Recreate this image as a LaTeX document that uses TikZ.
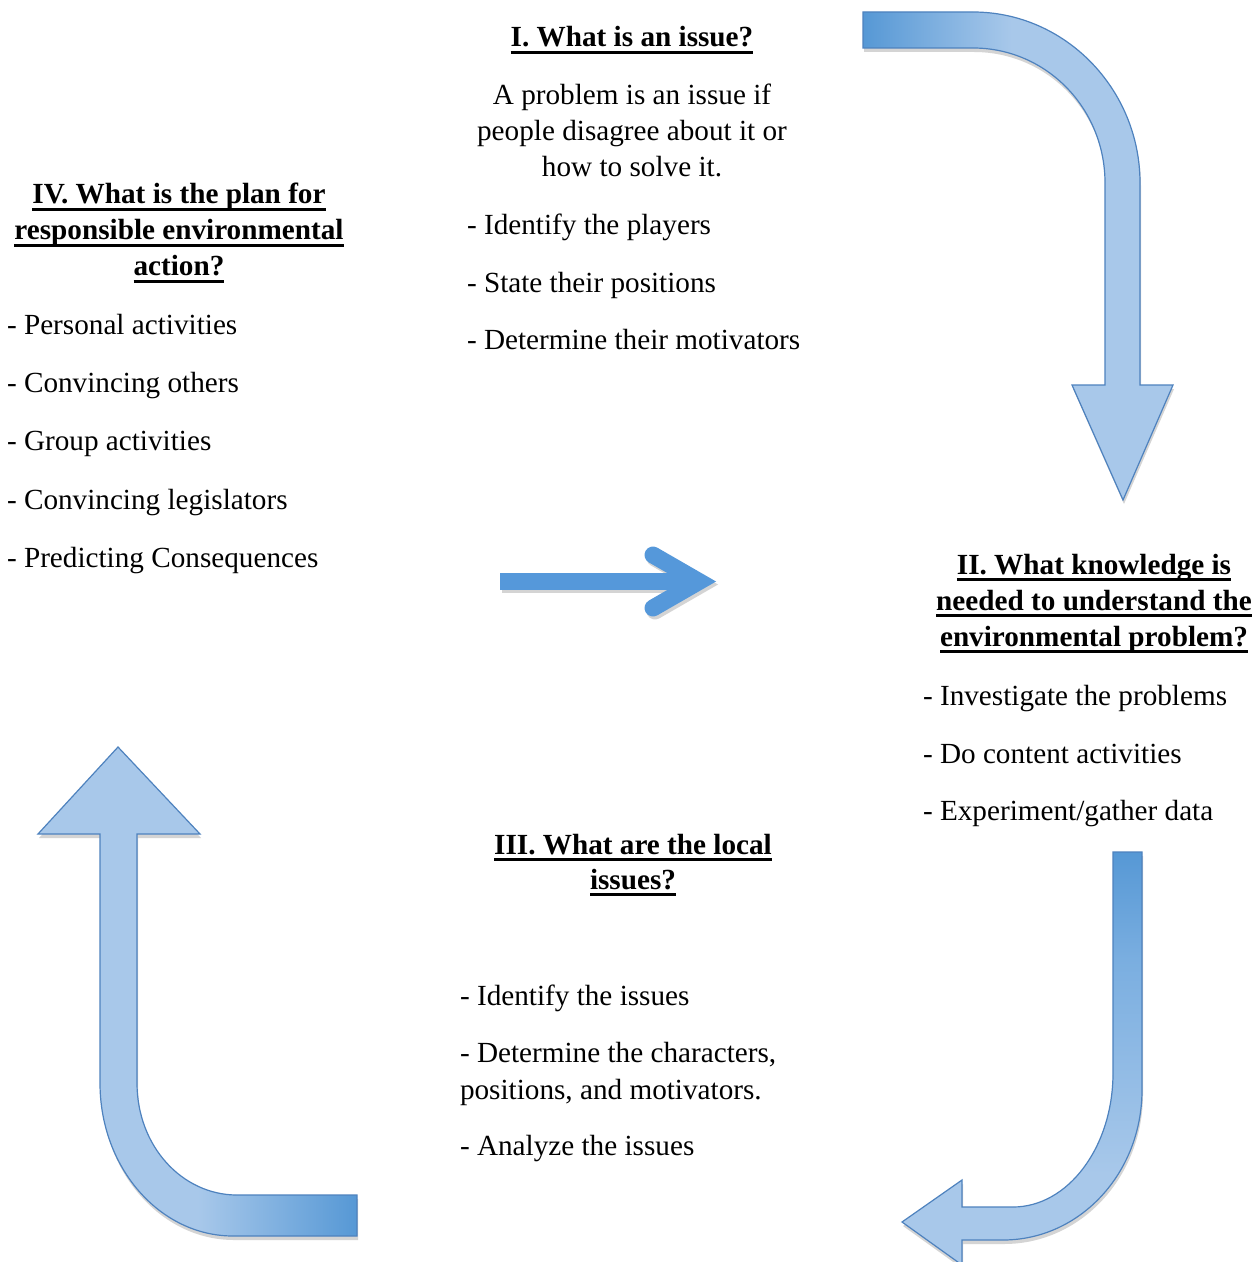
\documentclass[tikz,border=0pt]{standalone}
\usepackage{fontspec}
\setmainfont{Liberation Serif}
\definecolor{arrdark}{RGB}{86,152,213}
\definecolor{arrmid}{RGB}{122,174,224}
\definecolor{arrlight}{RGB}{168,200,234}
\definecolor{arredge}{RGB}{78,130,190}
\definecolor{arrflat}{RGB}{85,152,218}
\definecolor{shadowc}{RGB}{212,212,212}
\pgfdeclarehorizontalshading{shA}{100bp}{color(0bp)=(arrdark); color(25bp)=(arrdark); color(49bp)=(arrlight); color(100bp)=(arrlight)}
\pgfdeclareverticalshading{shC}{100bp}{color(0bp)=(arrlight); color(36bp)=(arrlight); color(62bp)=(arrmid); color(75bp)=(arrdark); color(100bp)=(arrdark)}
\pgfdeclarehorizontalshading{shD}{100bp}{color(0bp)=(arrlight); color(50bp)=(arrlight); color(75bp)=(arrdark); color(100bp)=(arrdark)}
\newcommand\myul[1]{\setbox0=\hbox{#1}\rlap{\rule[-3.5pt]{\wd0}{1.5pt}}\box0}
\begin{document}
\begin{tikzpicture}[x=0.5pt,y=-0.5pt,
  every node/.style={inner sep=0pt,outer sep=0pt},
  basefont/.style={font=\fontsize{14.6}{18}\selectfont},
  ttl/.style={anchor=base,font=\fontsize{14.6}{18}\selectfont\bfseries},
  ctr/.style={anchor=base,basefont},
  itm/.style={anchor=base west,basefont},
  bigarrow/.style={draw=arredge,line width=0.6pt,
    preaction={fill=shadowc,transform canvas={shift={(1,4)}}}},
  flatarrow/.style={draw=arrflat,line width=8.5pt}]
\useasboundingbox (0,0) rectangle (1256,1262);
\fill[white] (0,0) rectangle (1256,1262);

% Arrow A (top right, turning down)
\shade[shading=shA,bigarrow]
 (863,12) -- (973,12) .. controls (1065,12) and (1140,89) .. (1140,183)
 -- (1140,385) -- (1173,385) -- (1123,500) -- (1072,385) -- (1105,385)
 -- (1105,183) .. controls (1105,108) and (1046,48) .. (973,48) -- (863,48) -- cycle;

% Arrow C (bottom right, turning left)
\shade[shading=shC,bigarrow]
 (1113,852) -- (1142,852) -- (1142,1090) .. controls (1142,1173) and (1080,1240) .. (1003,1240)
 -- (962,1240) -- (962,1265) -- (902,1222) -- (962,1180) -- (962,1207) -- (1013,1207)
 .. controls (1068,1207) and (1113,1147) .. (1113,1073) -- cycle;

% Arrow D (bottom left, turning up)
\shade[shading=shD,bigarrow]
 (118,747) -- (200,834) -- (137,834) -- (137,1083) .. controls (137,1146) and (182,1195) .. (237,1195)
 -- (357,1195) -- (357,1236) -- (233,1236) .. controls (160,1236) and (100,1168) .. (100,1083)
 -- (100,834) -- (38,834) -- cycle;

% Arrow B (straight, centre)
\begin{scope}[shift={(2,3)}]
\draw[flatarrow,draw=shadowc] (500,581.5) -- (692,581.5);
\draw[flatarrow,draw=shadowc,line cap=round,line join=miter] (653,555) -- (699,581.5) -- (653,608);
\end{scope}
\draw[flatarrow] (500,581.5) -- (692,581.5);
\draw[flatarrow,line cap=round,line join=miter] (653,555) -- (699,581.5) -- (653,608);

% I
\node[ttl] (t1) at (632,47) {\myul{I. What is an issue?}};
\node[ctr] (p1a) at (632,105) {A problem is an issue if};
\node[ctr] (p1b) at (632,141) {people disagree about it or};
\node[ctr] (p1c) at (632,177) {how to solve it.};
\node[itm] (b1a) at (467,235) {- Identify the players};
\node[itm] (b1b) at (467,293) {- State their positions};
\node[itm] (b1c) at (467,350) {- Determine their motivators};

% IV
\node[ttl] (t4a) at (179,204) {\myul{IV. What is the plan for}};
\node[ttl] (t4b) at (179,240) {\myul{responsible environmental}};
\node[ttl] (t4c) at (179,276) {\myul{action?}};
\node[itm] (b4a) at (7,335) {- Personal activities};
\node[itm] (b4b) at (7,393) {- Convincing others};
\node[itm] (b4c) at (7,450) {- Group activities};
\node[itm] (b4d) at (7,509) {- Convincing legislators};
\node[itm] (b4e) at (7,567) {- Predicting Consequences};

% II
\node[ttl] (t2a) at (1094,574) {\myul{II. What knowledge is}};
\node[ttl] (t2b) at (1094,610) {\myul{needed to understand the}};
\node[ttl] (t2c) at (1094,646) {\myul{environmental problem?}};
\node[itm] (b2a) at (923,705) {- Investigate the problems};
\node[itm] (b2b) at (923,763) {- Do content activities};
\node[itm] (b2c) at (923,820) {- Experiment/gather data};

% III
\node[ttl] (t3a) at (633,854) {\myul{III. What are the local}};
\node[ttl] (t3b) at (633,889) {\myul{issues?}};
\node[itm] (b3a) at (460,1005) {- Identify the issues};
\node[itm] (b3b) at (460,1062) {- Determine the characters,};
\node[itm] (b3c) at (460,1099) {positions, and motivators.};
\node[itm] (b3d) at (460,1155) {- Analyze the issues};
\end{tikzpicture}
\end{document}
